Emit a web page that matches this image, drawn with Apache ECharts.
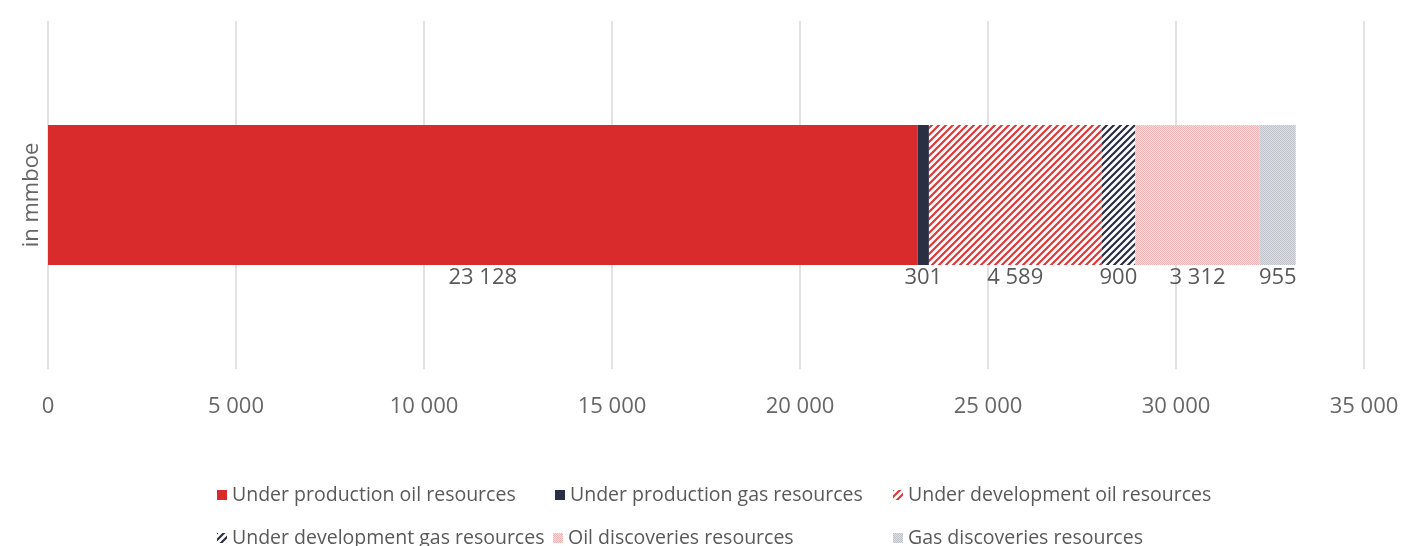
<!DOCTYPE html>
<html><head><meta charset="utf-8">
<script src="https://cdn.jsdelivr.net/npm/echarts@6/dist/echarts.min.js"></script>
<style>html,body{margin:0;padding:0;background:#fff}#c{width:1404px;height:546px}</style>
</head><body><div id="c"></div>
<script>
const categories = ['in mmboe'];
const seriesNames = ['Under production oil resources','Under production gas resources','Under development oil resources','Under development gas resources','Oil discoveries resources','Gas discoveries resources'];
const upOil = [23128];
const upGas = [301];
const udOil = [4589];
const udGas = [900];
const discOil = [3312];
const discGas = [955];
const seriesValues = [upOil, upGas, udOil, udGas, discOil, discGas];
const xTicks = [0, 5000, 10000, 15000, 20000, 25000, 30000, 35000];

function stripes(color){
  const s = 7, c = document.createElement('canvas'); c.width = s; c.height = s;
  const g = c.getContext('2d'); g.fillStyle = '#fff'; g.fillRect(0,0,s,s);
  g.strokeStyle = color; g.lineWidth = 2.2; g.lineCap = 'square';
  g.beginPath();
  g.moveTo(0,s); g.lineTo(s,0);
  g.moveTo(-1,1); g.lineTo(1,-1);
  g.moveTo(s-1,s+1); g.lineTo(s+1,s-1);
  g.stroke();
  return {image: c, repeat: 'repeat'};
}
function dots(a,b){
  const c = document.createElement('canvas'); c.width = 2; c.height = 2;
  const g = c.getContext('2d');
  g.fillStyle = b; g.fillRect(0,0,2,2);
  g.fillStyle = a; g.fillRect(0,0,1,1); g.fillRect(1,1,1,1);
  return {image: c, repeat: 'repeat'};
}
const fills = ['#d92a2c', '#2b2f43', stripes('#e0383a'), stripes('#2b2f43'), dots('#eeb3b5','#f9dfe0'), dots('#bfc1c9','#dfe0e5')];
const fmt = v => String(v).replace(/\B(?=(\d{3})+(?!\d))/g, ' ');
const legendLeft = [217, 555, 893, 217, 553, 893];
const legendTop = [485, 485, 485, 528, 528, 528];

const chart = echarts.init(document.getElementById('c'));
chart.setOption({
  animation: false,
  grid: {left: 48, right: 40, top: 21, bottom: 177},
  xAxis: {
    type: 'value', min: xTicks[0], max: xTicks[xTicks.length-1], interval: 5000,
    axisLine: {show: false}, axisTick: {show: false},
    axisLabel: {formatter: fmt, fontSize: 22, color: '#666', margin: 27, fontFamily: 'Open Sans'},
    splitLine: {lineStyle: {color: '#d9d9d9', width: 1.5}}
  },
  yAxis: {
    type: 'category', data: categories,
    axisLine: {show: false}, axisTick: {show: false},
    axisLabel: {rotate: 90, fontSize: 22, color: '#666', margin: 5, fontFamily: 'Open Sans'}
  },
  legend: seriesNames.map((n,i) => ({
    data: [n], left: legendLeft[i], top: legendTop[i], icon: 'rect',
    itemWidth: 10, itemHeight: 10, itemGap: 5, padding: 0,
    textStyle: {fontSize: 19.5, color: '#595959', fontFamily: 'Open Sans', padding: [0,0,0,0]}
  })),
  series: seriesNames.map((n,i) => ({
    name: n, type: 'bar', stack: 'total', barWidth: 140,
    data: seriesValues[i],
    itemStyle: {color: fills[i]},
    label: {show: true, position: 'bottom', distance: 2, formatter: p => fmt(p.value),
      fontSize: 22, color: '#595959', fontFamily: 'Open Sans'}
  }))
});
</script></body></html>
